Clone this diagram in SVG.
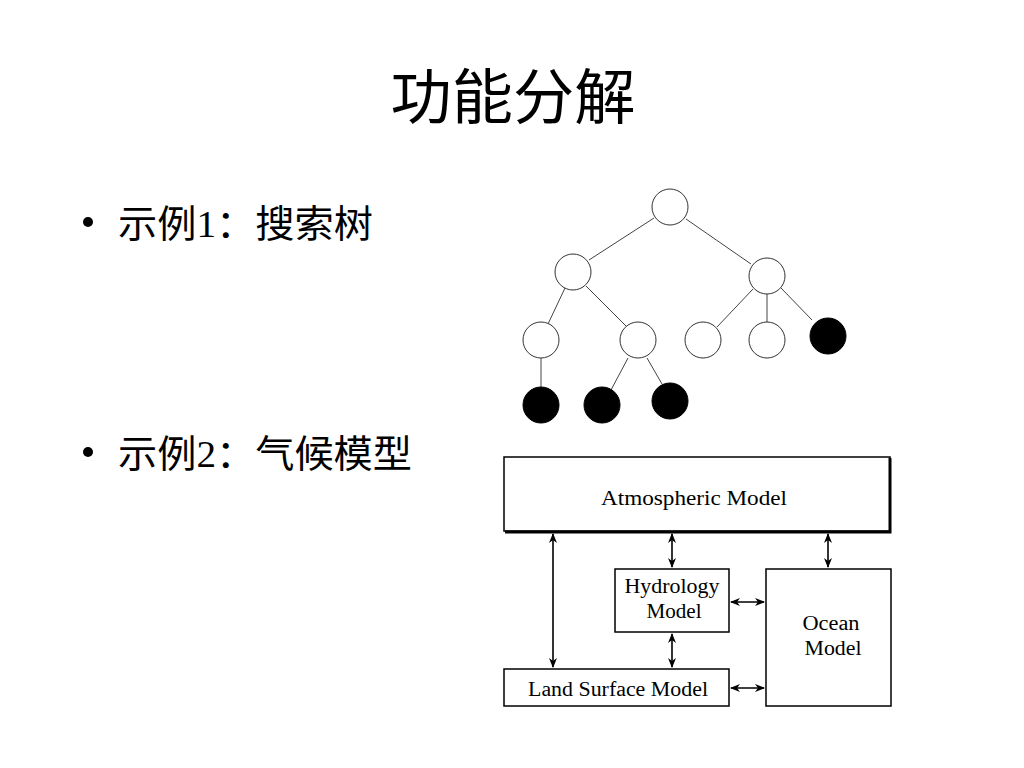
<svg xmlns="http://www.w3.org/2000/svg" width="1024" height="768" viewBox="0 0 1024 768">
<defs>
<style>
.cjk{font-family:"Liberation Serif","Noto Sans CJK SC",serif;fill:#000}
.lbl{font-family:"Liberation Serif","DejaVu Serif",serif;font-size:20px;fill:#000}
.edge{stroke:#444;stroke-width:1;fill:none}
.wn{fill:#fff;stroke:#333;stroke-width:1}
.bn{fill:#000;stroke:#000;stroke-width:1}
.box{fill:#fff;stroke:#000;stroke-width:1.5}
.arr{stroke:#000;stroke-width:1.6;fill:none;marker-start:url(#ah);marker-end:url(#ah)}
</style>
<marker id="ah" viewBox="0 0 10 8" refX="9" refY="4" markerWidth="10" markerHeight="8" orient="auto-start-reverse" markerUnits="userSpaceOnUse">
<path d="M0,0 L10,4 L0,8 L3,4 z" fill="#000"/>
</marker>
</defs>
<rect width="1024" height="768" fill="#fff"/>

<g id="title">
<text class="cjk" x="513" y="119" font-size="60" text-anchor="middle" textLength="245" lengthAdjust="spacingAndGlyphs">功能分解</text>
</g>
<g id="bullet1">
<circle cx="88" cy="222" r="5" fill="#000"/>
<text class="cjk" x="118" y="237" font-size="38" textLength="255" lengthAdjust="spacingAndGlyphs">示例1：搜索树</text>
</g>
<g id="bullet2">
<circle cx="88" cy="452" r="5" fill="#000"/>
<text class="cjk" x="118" y="467" font-size="38" textLength="294" lengthAdjust="spacingAndGlyphs">示例2：气候模型</text>
</g>

<g id="tree-edges">
<line class="edge" x1="654" y1="218" x2="589" y2="260"/>
<line class="edge" x1="686" y1="219" x2="751" y2="264"/>
<line class="edge" x1="565" y1="288" x2="548" y2="324"/>
<line class="edge" x1="586" y1="286" x2="628" y2="328"/>
<line class="edge" x1="541" y1="358" x2="541" y2="387"/>
<line class="edge" x1="628" y1="358" x2="611" y2="390"/>
<line class="edge" x1="647" y1="358" x2="662" y2="384"/>
<line class="edge" x1="753" y1="289" x2="717" y2="327"/>
<line class="edge" x1="767" y1="294" x2="767" y2="322"/>
<line class="edge" x1="781" y1="288" x2="812" y2="320"/>
</g>
<g id="tree-root"><circle class="wn" cx="670" cy="207" r="18"/></g>
<g id="tree-l2a"><circle class="wn" cx="573" cy="272" r="18"/></g>
<g id="tree-l2b"><circle class="wn" cx="767" cy="276" r="18"/></g>
<g id="tree-l3a"><circle class="wn" cx="541" cy="340" r="18"/></g>
<g id="tree-l3b"><circle class="wn" cx="638" cy="340" r="18"/></g>
<g id="tree-l3c"><circle class="wn" cx="703" cy="340" r="18"/></g>
<g id="tree-l3d"><circle class="wn" cx="767" cy="340" r="18"/></g>
<g id="tree-l3e"><circle class="bn" cx="828" cy="336" r="18"/></g>
<g id="tree-l4a"><circle class="bn" cx="541" cy="405" r="18"/></g>
<g id="tree-l4b"><circle class="bn" cx="602" cy="405" r="18"/></g>
<g id="tree-l4c"><circle class="bn" cx="670" cy="401" r="18"/></g>

<g id="climate-connectors">
<line class="arr" x1="553" y1="534" x2="553" y2="667"/>
<line class="arr" x1="672" y1="534" x2="672" y2="567"/>
<line class="arr" x1="672" y1="634" x2="672" y2="667"/>
<line class="arr" x1="828" y1="534" x2="828" y2="567"/>
<line class="arr" x1="731" y1="602" x2="764" y2="602"/>
<line class="arr" x1="731" y1="688" x2="764" y2="688"/>
</g>

<g id="atmospheric">
<rect class="box" x="504" y="457" width="386" height="74"/>
<path d="M890,458 V532 H505" stroke="#000" stroke-width="3" fill="none"/>
<text class="lbl" x="694" y="505" text-anchor="middle" textLength="186" lengthAdjust="spacingAndGlyphs">Atmospheric  Model</text>
</g>
<g id="hydrology">
<rect class="box" x="615" y="569" width="114" height="63"/>
<text class="lbl" x="672" y="593" text-anchor="middle" textLength="95" lengthAdjust="spacingAndGlyphs">Hydrology</text>
<text class="lbl" x="674" y="618" text-anchor="middle" textLength="55" lengthAdjust="spacingAndGlyphs">Model</text>
</g>
<g id="ocean">
<rect class="box" x="766" y="569" width="125" height="137"/>
<text class="lbl" x="831" y="630" text-anchor="middle" textLength="57" lengthAdjust="spacingAndGlyphs">Ocean</text>
<text class="lbl" x="833" y="655" text-anchor="middle" textLength="57" lengthAdjust="spacingAndGlyphs">Model</text>
</g>
<g id="land-surface">
<rect class="box" x="504" y="669" width="225" height="37"/>
<text class="lbl" x="618" y="696" text-anchor="middle" textLength="180" lengthAdjust="spacingAndGlyphs">Land Surface Model</text>
</g>
</svg>
